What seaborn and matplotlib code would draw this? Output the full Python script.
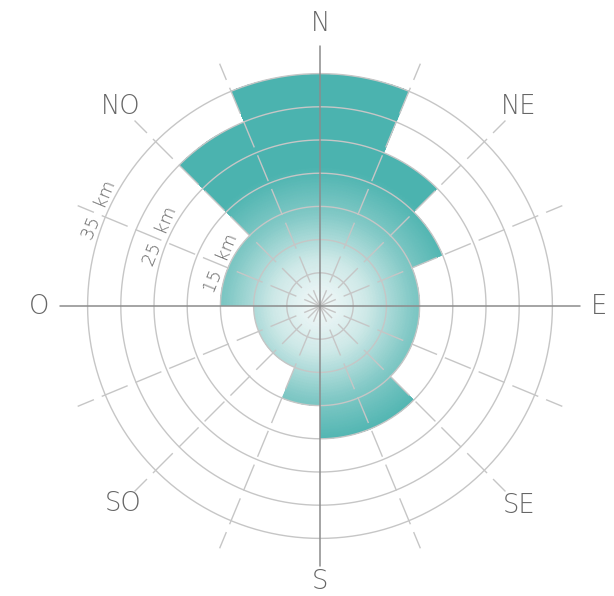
import numpy as np
import matplotlib
matplotlib.use("Agg")
import matplotlib.pyplot as plt
import seaborn as sns
from matplotlib.colors import LinearSegmentedColormap
from matplotlib.path import Path
from matplotlib.patches import PathPatch

# datos: 16 sectores de 22.5°, desde el N en sentido horario
sector_start = np.arange(0, 360, 22.5)
distance_km = [35, 25, 20, 15, 15, 15, 20, 20, 15, 10, 10, 10, 15, 15, 30, 35]
ring_km = [5, 10, 15, 20, 25, 30, 35]
ring_labels = {15: "15  km", 25: "25  km", 35: "35  km"}
compass_deg = [0, 45, 90, 135, 180, 225, 270, 315]
compass_labels = ["N", "NE", "E", "SE", "S", "SO", "O", "NO"]

sns.set_style("white")
plt.rcParams["font.family"] = ["DejaVu Sans"]
plt.rcParams["lines.scale_dashes"] = False

teal = "#4bb3af"
grid_col = "#c6c6c6"
axis_col = "#8c8c8c"
text_col = "#666666"
cmap = LinearSegmentedColormap.from_list("grad", ["#f6fbfb", "#cfe9e8", "#82c9c6", teal], N=256)

fig = plt.figure(figsize=(6.14, 5.96), dpi=100)
rmax = 45
px = 6.64 * rmax  # radio del eje en pixeles
ax = fig.add_axes([(320 - px) / 614, (290 - px) / 596, 2 * px / 614, 2 * px / 596],
                  projection="polar")
ax.set_theta_zero_location("N")
ax.set_theta_direction(-1)
ax.set_ylim(0, rmax)
ax.axis("off")

# barras (contorno usado como mascara del degradado)
width = np.deg2rad(22.5)
bars = ax.bar(np.deg2rad(sector_start), distance_km, width=width, align="edge",
              facecolor="none", edgecolor="none", zorder=1)

verts = []
for start, val in zip(sector_start, distance_km):
    t0 = np.deg2rad(start)
    verts += [(t0, val), (t0 + width, val)]
verts.append(verts[0])
outline = Path(verts, closed=True, _interpolation_steps=100)
mask = PathPatch(outline, transform=ax.transData, facecolor="none", edgecolor="none")
ax.add_patch(mask)

th = np.linspace(0, 2 * np.pi, 241)
rr = np.linspace(0, max(distance_km) + 1, 80)
TH, RR = np.meshgrid(th, rr)
C = np.clip(RR / 21.0, 0, 1)
mesh = ax.pcolormesh(TH, RR, C, cmap=cmap, vmin=0, vmax=1, shading="gouraud", zorder=1)
mesh.set_clip_path(mask)

# circulos
th_full = np.linspace(0, 2 * np.pi, 721)
for r in ring_km:
    ax.plot(th_full, np.full_like(th_full, r), color=grid_col, lw=1.0, zorder=3)

# radios discontinuos
for a in np.arange(0, 360, 22.5):
    if a % 90 == 0:
        continue
    t = np.deg2rad(a)
    ax.plot([t, t], [0, 39.5], color=grid_col, lw=1.0, zorder=3,
            linestyle=(7.9, (20.2, 6.1)))

# ejes principales
for a in [0, 90, 180, 270]:
    t = np.deg2rad(a)
    ax.plot([t, t], [0, 39.2], color=axis_col, lw=1.1, zorder=4)

# rotulos de direccion
label_r = [42.6, 42.4, 42.0, 42.5, 41.5, 42.0, 42.3, 42.4]
for a, lab, r in zip(compass_deg, compass_labels, label_r):
    ax.text(np.deg2rad(a), r, lab, ha="center", va="center", fontsize=18.5,
            fontweight="light", color=text_col, clip_on=False)

# rotulos de distancia
for r, lab in ring_labels.items():
    ax.text(np.deg2rad(293.5), r + 1.2, lab, ha="center", va="center", fontsize=13,
            fontweight="light", rotation=67.5, rotation_mode="anchor",
            color=text_col, zorder=5)

fig.savefig("out.png", dpi=100)
